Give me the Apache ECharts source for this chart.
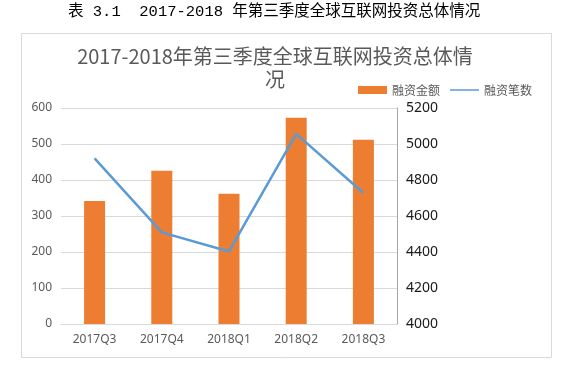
<!DOCTYPE html>
<html>
<head>
<meta charset="utf-8">
<script src="https://cdn.jsdelivr.net/npm/echarts@6/dist/echarts.min.js"></script>
<style>
html,body{margin:0;padding:0;background:#fff;}
#c{width:578px;height:367px;}
</style>
</head>
<body>
<div id="c"></div>
<script>
var categories = ['2017Q3', '2017Q4', '2018Q1', '2018Q2', '2018Q3'];
var amountValues = [342, 426, 362, 573, 512];
var countValues = [4920, 4509, 4403, 5056, 4728];
var leftTicks = {min: 0, max: 600, interval: 100};
var rightTicks = {min: 4000, max: 5200, interval: 200};
var seriesNames = ['融资金额', '融资笔数'];

var chart = echarts.init(document.getElementById('c'), null, {renderer: 'canvas'});
var cjk = '"Noto Sans CJK SC", "Noto Sans", sans-serif';
var latin = '"Noto Sans", "Open Sans", sans-serif';
chart.setOption({
  backgroundColor: '#fff',
  animation: false,
  graphic: [
    {type: 'rect', shape: {x: 21.5, y: 33.5, width: 530, height: 324},
     style: {fill: 'none', stroke: '#d9d9d9', lineWidth: 1}, z: -1},
    {type: 'text', left: 68, top: 4,
     style: {text: '表 3.1  2017-2018 年第三季度全球互联网投资总体情况',
       font: '15.5px "Liberation Mono", "Noto Sans CJK SC", monospace', fill: '#000'}}
  ],
  title: {
    text: '2017-2018年第三季度全球互联网投资总体情\n况',
    left: 270, top: 40, textAlign: 'center',
    textStyle: {fontFamily: cjk, fontSize: 20, fontWeight: 'normal', color: '#595959', lineHeight: 23}
  },
  legend: {
    left: 353, top: 79,
    itemWidth: 29, itemHeight: 8, itemGap: 10,
    textStyle: {fontFamily: cjk, fontSize: 12, color: '#595959'},
    data: [
      {name: seriesNames[0], icon: 'rect'},
      {name: seriesNames[1], icon: 'path://M0,0L30,0L30,0ZM0,3.2L30,3.2L30,4.8L0,4.8ZM0,8L30,8L30,8Z'}
    ]
  },
  grid: {left: 61, right: 181, top: 108, bottom: 43, containLabel: false},
  xAxis: {
    type: 'category', data: categories,
    axisLine: {lineStyle: {color: '#d9d9d9'}},
    axisTick: {show: false},
    axisLabel: {margin: 10, fontFamily: latin, fontSize: 12, color: '#595959'}
  },
  yAxis: [
    {type: 'value', min: leftTicks.min, max: leftTicks.max, interval: leftTicks.interval,
     axisLine: {show: false}, axisTick: {show: false},
     axisLabel: {margin: 9, fontFamily: latin, fontSize: 12, color: '#595959'},
     splitLine: {lineStyle: {color: '#d9d9d9'}}},
    {type: 'value', position: 'right', min: rightTicks.min, max: rightTicks.max, interval: rightTicks.interval,
     axisLine: {show: true, lineStyle: {color: '#a6a6a6'}}, axisTick: {show: false},
     axisLabel: {margin: 9, fontFamily: latin, fontSize: 14, color: '#1a1a1a',
       formatter: function (v) { return String(v); }},
     splitLine: {show: false}}
  ],
  series: [
    {name: seriesNames[0], type: 'bar', data: amountValues, barWidth: 21,
     itemStyle: {color: '#ed7d31'}, yAxisIndex: 0},
    {name: seriesNames[1], type: 'line', data: countValues, yAxisIndex: 1,
     symbol: 'none', showSymbol: false,
     lineStyle: {color: '#5b9bd5', width: 2.5}, itemStyle: {color: '#5b9bd5'}}
  ]
});
</script>
</body>
</html>
